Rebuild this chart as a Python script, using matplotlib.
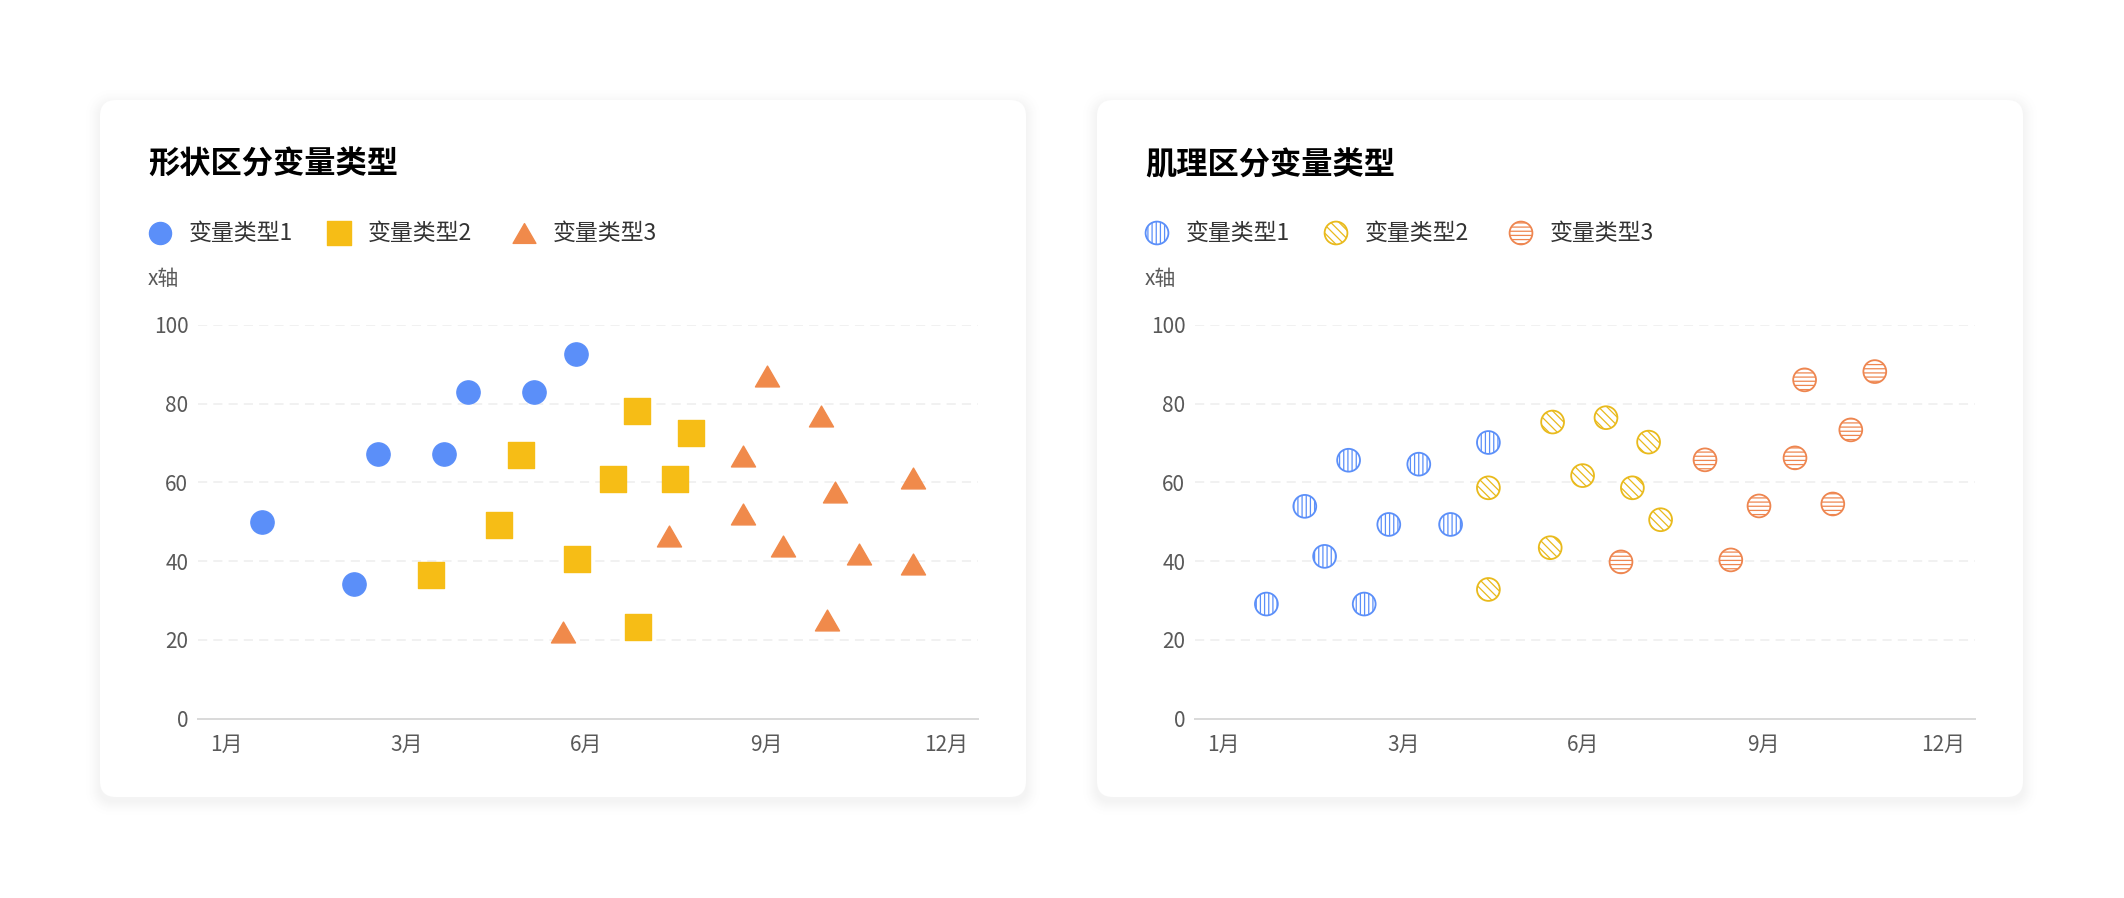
import matplotlib
matplotlib.use("Agg")
import matplotlib.pyplot as plt
from matplotlib.patches import FancyBboxPatch
from matplotlib.path import Path

plt.rcParams['font.family'] = ['Noto Sans CJK SC', 'DejaVu Sans']

# ---- data ----
month_ticks = [0, 3, 6, 9, 12]
month_labels = ['1月', '3月', '6月', '9月', '12月']
y_ticks = [0, 20, 40, 60, 80, 100]
series_names = ['变量类型1', '变量类型2', '变量类型3']
titles = ['形状区分变量类型', '肌理区分变量类型']
y_axis_name = 'x轴'

# left chart: one marker shape per series
shape1_x = [0.60, 2.13, 2.53, 3.63, 4.03, 5.13, 5.83]
shape1_y = [49.9, 34.2, 67.2, 67.2, 82.9, 82.9, 92.6]
shape2_x = [3.41, 4.54, 4.91, 5.84, 6.44, 6.85, 6.87, 7.48, 7.74]
shape2_y = [36.5, 49.2, 66.9, 40.5, 60.9, 78.1, 23.3, 60.9, 72.5]
shape3_x = [5.62, 7.38, 8.61, 8.61, 9.01, 9.28, 9.91, 10.02, 10.15, 10.54, 11.45, 11.45]
shape3_y = [22.0, 46.4, 66.7, 51.9, 87.0, 43.8, 76.8, 25.0, 57.5, 41.9, 61.1, 39.3]

# right chart: one hatch texture per series
texture1_x = [0.72, 1.36, 1.69, 2.09, 2.35, 2.76, 3.26, 3.79, 4.42]
texture1_y = [29.1, 53.9, 41.2, 65.6, 29.1, 49.3, 64.6, 49.3, 70.1]
texture2_x = [4.42, 4.42, 5.45, 5.49, 5.99, 6.38, 6.82, 7.09, 7.29]
texture2_y = [58.6, 32.8, 43.4, 75.3, 61.7, 76.4, 58.6, 70.2, 50.5]
texture3_x = [6.63, 8.03, 8.46, 8.93, 9.53, 9.69, 10.16, 10.46, 10.86]
texture3_y = [39.8, 65.7, 40.3, 54.0, 66.2, 86.0, 54.5, 73.3, 88.1]

colors = ['#5B8FF9', '#F6BD16', '#F08A4B']
texture_edge = ['#5B8FF9', '#E9BA1C', '#EE8650']
hatches = ['||||', '\\\\\\\\', '----']

# equilateral-ish triangle marker
tri = Path([(0, 0.866), (-1, -0.866), (1, -0.866), (0, 0.866)],
           [Path.MOVETO, Path.LINETO, Path.LINETO, Path.CLOSEPOLY])
shape_styles = [dict(marker='o', s=280), dict(marker='s', s=330), dict(marker=tri, s=300)]

W, H = 2124, 898
fig = plt.figure(figsize=(W / 100, H / 100), dpi=100)
fig.patch.set_facecolor('white')

# background layer in pixel coordinates for cards, titles and legends
bg = fig.add_axes([0, 0, 1, 1], zorder=-1)
bg.set_xlim(0, W)
bg.set_ylim(H, 0)
bg.axis('off')

card_x = [100, 1097]
card_y, card_w, card_h = 100, 926, 697

# soft shadow: opaque grey rings from outside in
spread = 18
for cx in card_x:
    for i in range(spread, 0, -1):
        level = 1 - 0.05 * (1 - i / spread) ** 2
        bg.add_patch(FancyBboxPatch((cx - i, card_y - i + 4), card_w + 2 * i, card_h + 2 * i,
                                    boxstyle=f"round,pad=0,rounding_size={16 + i}",
                                    fc=(level, level, level), ec='none'))
    bg.add_patch(FancyBboxPatch((cx, card_y), card_w, card_h,
                                boxstyle="round,pad=0,rounding_size=16",
                                fc='white', ec='none'))


def style_axes(ax):
    ax.set_facecolor('none')
    ax.set_xlim(-0.47, 12.53)
    ax.set_ylim(0, 100)
    ax.set_xticks(month_ticks, month_labels)
    ax.set_yticks(y_ticks)
    for sp in ['top', 'right', 'left']:
        ax.spines[sp].set_visible(False)
    ax.spines['bottom'].set_color('#d9d9d9')
    ax.spines['bottom'].set_linewidth(1.4)
    ax.tick_params(axis='both', length=0, labelsize=15, labelcolor='#595959')
    ax.tick_params(axis='x', pad=11)
    ax.tick_params(axis='y', pad=7)
    for v in y_ticks[1:]:
        ax.axhline(v, color='#eeeeee', lw=1.1, ls=(0, (6, 4)), zorder=0)


def panel_header(offset, title):
    bg.text(148 + offset, 165, title, fontsize=22.5, fontweight='bold',
            color='#000000', ha='left', va='center')
    bg.text(148 + offset, 279, y_axis_name, fontsize=15, color='#595959',
            ha='left', va='center')


legend_x = [160, 339, 524]
legend_y = 233

# ---- left panel: shapes ----
ax1 = fig.add_axes([198 / W, (H - 718.7) / H, 780 / W, 394 / H])
style_axes(ax1)
panel_header(0, titles[0])
shape_data = [(shape1_x, shape1_y), (shape2_x, shape2_y), (shape3_x, shape3_y)]
for (xs, ys), c, st, name, lx in zip(shape_data, colors, shape_styles, series_names, legend_x):
    ax1.scatter(xs, ys, color=c, linewidths=1, edgecolors=c, zorder=3, clip_on=False, **st)
    bg.scatter([lx], [legend_y], color=c, edgecolors=c, linewidths=1,
               marker=st['marker'], s=st['s'] * 0.9)
    bg.text(lx + 29, legend_y, name, fontsize=16.5, color='#333333', ha='left', va='center')

# ---- right panel: textures ----
off = 997
ax2 = fig.add_axes([(198 + off) / W, (H - 718.7) / H, 780 / W, 394 / H])
style_axes(ax2)
panel_header(off, titles[1])
texture_data = [(texture1_x, texture1_y), (texture2_x, texture2_y), (texture3_x, texture3_y)]
for (xs, ys), ec, h, name, lx in zip(texture_data, texture_edge, hatches, series_names, legend_x):
    plt.rcParams['hatch.color'] = ec
    plt.rcParams['hatch.linewidth'] = 0.9
    ax2.scatter(xs, ys, marker='o', s=270, facecolors='white', edgecolors=ec,
                linewidths=1.3, hatch=h, zorder=3, clip_on=False)
    bg.scatter([lx + off], [legend_y], marker='o', s=270, facecolors='white',
               edgecolors=ec, linewidths=1.3, hatch=h)
    bg.text(lx + off + 29, legend_y, name, fontsize=16.5, color='#333333', ha='left', va='center')

fig.savefig('out.png', dpi=100, facecolor='white')
